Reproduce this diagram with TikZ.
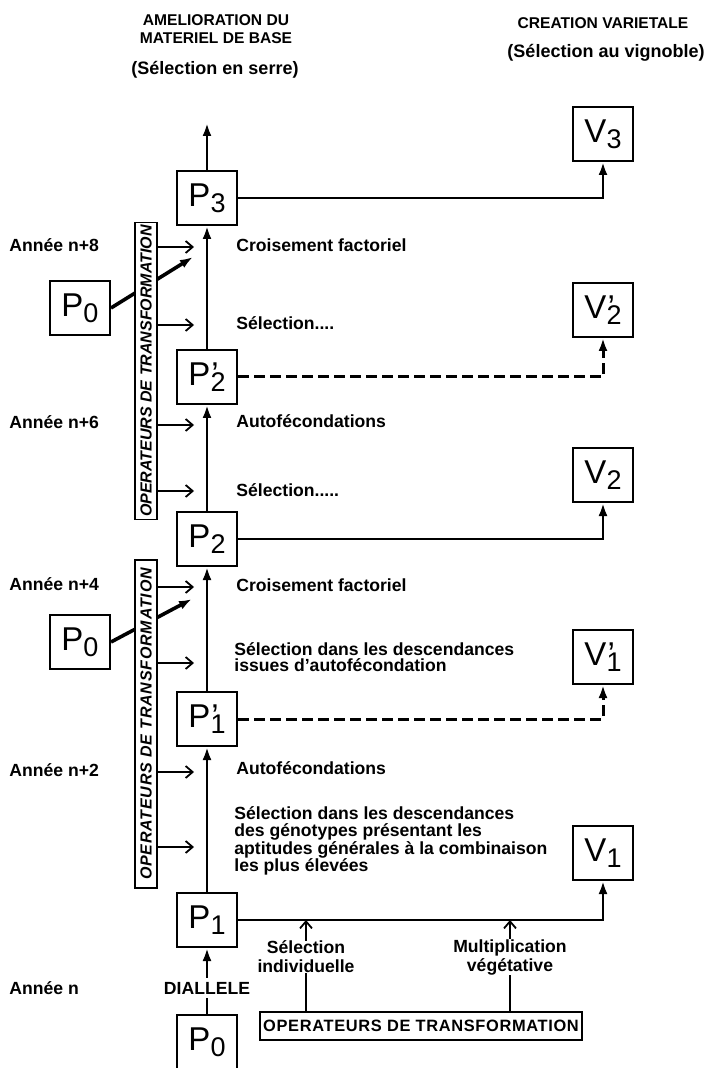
\documentclass[tikz,border=0pt]{standalone}
\usepackage{fontspec}
\setmainfont{Liberation Sans}
\usetikzlibrary{arrows.meta}
\newcommand{\plab}[3]{#1\rlap{\kern0.5pt#3}\raisebox{-3pt}{\fontsize{13.5}{13.5}\selectfont #2}}
\tikzset{
    gen_box/.style = {
        draw=black,
        line width=1pt,
        minimum width=30pt,
        minimum height=27pt,
        inner sep=0pt,
        font=\fontsize{16.5}{16.5}\selectfont
    },
    main_line/.style = {
        draw=black,
        line width=1.4pt
    },
    dash_line/.style = {
        draw=black,
        line width=1.5pt,
        dash pattern=on 5.5pt off 2.5pt
    },
    feed_line/.style = {
        draw=black,
        line width=1.8pt
    },
    op_arrow/.style = {
        draw=black,
        line width=0.9pt,
        -{Straight Barb[length=3.5pt,width=6pt,line width=0.9pt]}
    },
    op_bar/.style = {
        draw=black,
        line width=0.9pt,
        fill=white,
        minimum width=11pt,
        inner sep=0pt,
        font=\fontsize{8}{8}\selectfont\bfseries\itshape
    },
    stage_text/.style = {
        anchor=west,
        align=left,
        inner sep=0pt,
        font=\fontsize{8.8}{8.7}\selectfont\bfseries
    },
    head_text/.style = {
        align=center,
        inner sep=0pt,
        font=\fontsize{7.8}{9}\selectfont\bfseries
    },
    sub_head_text/.style = {
        align=center,
        inner sep=0pt,
        font=\fontsize{9}{9}\selectfont\bfseries
    },
}

\begin{document}
\begin{tikzpicture}[x=0.5pt, y=-0.5pt, >={Latex[length=6.5pt,width=4.5pt]}]
    \useasboundingbox (0,0) rectangle (705,1068);

    % column titles
    \node[head_text] (h_amel) at (216,29) {AMELIORATION DU\\MATERIEL DE BASE};
    \node[sub_head_text] (h_serre) at (215,70) {(Sélection en serre)};
    \node[head_text] (h_crea) at (603,23) {CREATION VARIETALE};
    \node[sub_head_text] (h_vign) at (606,53) {(Sélection au vignoble)};

    % material column
    \node[gen_box] (p3) at (207,198) {\plab{P}{3}{}};
    \node[gen_box] (p2p) at (207,377) {\plab{P}{2}{’}};
    \node[gen_box] (p2) at (207,539) {\plab{P}{2}{}};
    \node[gen_box] (p1p) at (207,719) {\plab{P}{1}{’}};
    \node[gen_box] (p1) at (207,920) {\plab{P}{1}{}};
    \node[gen_box] (p0b) at (207,1042) {\plab{P}{0}{}};
    \node[gen_box] (p0u) at (80,308) {\plab{P}{0}{}};
    \node[gen_box] (p0l) at (80,642) {\plab{P}{0}{}};

    % varieties
    \node[gen_box] (v3) at (603,134) {\plab{V}{3}{}};
    \node[gen_box] (v2p) at (603,310) {\plab{V}{2}{’}};
    \node[gen_box] (v2) at (603,475) {\plab{V}{2}{}};
    \node[gen_box] (v1p) at (603,657) {\plab{V}{1}{’}};
    \node[gen_box] (v1) at (603,853) {\plab{V}{1}{}};

    \coordinate (top) at (207,123);
    \coordinate (tip_up) at (193,257);
    \coordinate (tip_lo) at (192,599);

    % main column
    \node[stage_text, anchor=center, inner sep=2pt, fill=white] (dial) at (207,988) {DIALLELE};
    \draw[main_line] (p0b) -- (dial);
    \draw[main_line,->] (dial) -- (p1);
    \draw[main_line,->] (p1) -- (p1p);
    \draw[main_line,->] (p1p) -- (p2);
    \draw[main_line,->] (p2) -- (p2p);
    \draw[main_line,->] (p2p) -- (p3);
    \draw[main_line,->] (p3) -- (top);

    \draw[main_line,->] (p3.east) -| (v3.south);
    \draw[dash_line,->] (p2p.east) -| (v2p.south);
    \draw[main_line,->] (p2.east) -| (v2.south);
    \draw[dash_line,->] (p1p.east) -| (v1p.south);
    \draw[main_line,->] (p1.east) -| (v1.south);

    \draw[feed_line,->] (p0u.east) -- (tip_up);
    \draw[feed_line,->] (p0l.east) -- (tip_lo);

    % operator bars
    \node[op_bar, minimum height=148.5pt] (bar_up) at (146,371) {\rotatebox{90}{OPERATEURS DE TRANSFORMATION}};
    \node[op_bar, minimum height=164pt] (bar_lo) at (146,724) {\rotatebox{90}{\addfontfeature{LetterSpace=5}OPERATEURS DE TRANSFORMATION}};

    % years
    \node[stage_text] (an8) at (9,245) {Année n+8};
    \node[stage_text] (an6) at (9,422) {Année n+6};
    \node[stage_text] (an4) at (9,584) {Année n+4};
    \node[stage_text] (an2) at (9,770) {Année n+2};
    \node[stage_text] (an0) at (9,988) {Année n};

    % steps
    \node[stage_text] (l1) at (236,245) {Croisement factoriel};
    \node[stage_text] (l2) at (236,323) {Sélection....};
    \node[stage_text] (l3) at (236,421) {Autofécondations};
    \node[stage_text] (l4) at (236,490) {Sélection.....};
    \node[stage_text] (l5) at (236,585) {Croisement factoriel};
    \node[stage_text, font=\fontsize{8.8}{7.8}\selectfont\bfseries] (l6) at (234,657) {Sélection dans les descendances\\issues d’autofécondation};
    \node[stage_text] (l7) at (236,768) {Autofécondations};
    \node[stage_text] (l8) at (234,841) {Sélection dans les descendances\\des génotypes présentant les\\aptitudes générales à la combinaison\\les plus élevées};

    \coordinate (e1) at (194,247);
    \coordinate (e2) at (194,325);
    \coordinate (e3) at (194,425);
    \coordinate (e4) at (194,491);
    \coordinate (e5) at (194,587);
    \coordinate (e6) at (194,663);
    \coordinate (e7) at (194,772);
    \coordinate (e8) at (194,847);
    \draw[op_arrow] (bar_up.east |- e1) -- (e1);
    \draw[op_arrow] (bar_up.east |- e2) -- (e2);
    \draw[op_arrow] (bar_up.east |- e3) -- (e3);
    \draw[op_arrow] (bar_up.east |- e4) -- (e4);
    \draw[op_arrow] (bar_lo.east |- e5) -- (e5);
    \draw[op_arrow] (bar_lo.east |- e6) -- (e6);
    \draw[op_arrow] (bar_lo.east |- e7) -- (e7);
    \draw[op_arrow] (bar_lo.east |- e8) -- (e8);

    % bottom operators
    \node[draw, line width=1pt, minimum width=161pt, minimum height=14pt, inner sep=0pt, font=\fontsize{8.2}{8.2}\selectfont\bfseries\addfontfeature{LetterSpace=4}] (op_box) at (421,1026) {OPERATEURS DE TRANSFORMATION};
    \node[stage_text, anchor=center, align=center, font=\fontsize{8.8}{9.5}\selectfont\bfseries] (l_sel) at (306,957) {Sélection\\individuelle};
    \node[stage_text, anchor=center, align=center, font=\fontsize{8.8}{9.5}\selectfont\bfseries] (l_mul) at (510,957) {Multiplication\\végétative};
    \draw[op_arrow, -] (op_box.north -| l_sel.south) -- (l_sel.south);
    \draw[op_arrow] (l_sel.north) -- (l_sel.north |- p1.east);
    \draw[op_arrow, -] (op_box.north -| l_mul.south) -- (l_mul.south);
    \draw[op_arrow] (l_mul.north) -- (l_mul.north |- p1.east);
\end{tikzpicture}
\end{document}
